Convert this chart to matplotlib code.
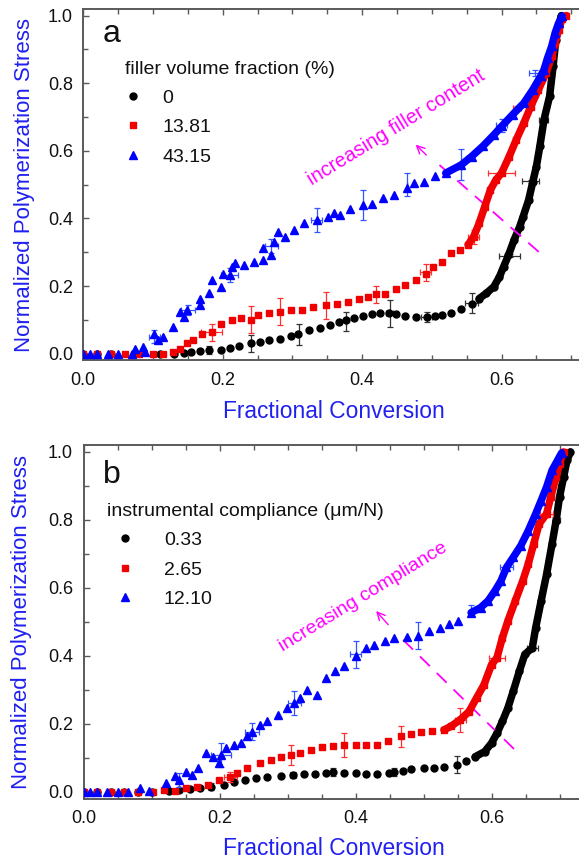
import matplotlib
matplotlib.use("Agg")
import matplotlib.pyplot as plt
from matplotlib.ticker import MultipleLocator

plt.rcParams['font.family'] = ['Liberation Sans', 'DejaVu Sans']
plt.rcParams['lines.scale_dashes'] = False

# ---------------- Panel a: filler volume fraction ----------------
a_labels = ["0", "13.81", "43.15"]
a_title = "filler volume fraction (%)"

a0_x = [0.0, 0.02, 0.04, 0.073, 0.11, 0.13, 0.144, 0.155, 0.168, 0.181, 0.197, 0.21, 0.224, 0.24, 0.253, 0.266,
        0.282, 0.298, 0.308, 0.324, 0.34, 0.354, 0.367, 0.377, 0.388, 0.401, 0.414, 0.425, 0.438, 0.449, 0.462,
        0.478, 0.493, 0.505, 0.515, 0.528, 0.542, 0.557, 0.568, 0.578, 0.589, 0.597, 0.603, 0.61, 0.618, 0.626,
        0.631, 0.639, 0.645, 0.65, 0.655, 0.661, 0.669, 0.674, 0.678, 0.682, 0.686]
a0_y = [0.0, 0.0, 0.0, 0.0, 0.0, 0.0, 0.002, 0.005, 0.008, 0.01, 0.012, 0.018, 0.022, 0.03, 0.035, 0.04,
        0.044, 0.051, 0.059, 0.069, 0.076, 0.084, 0.094, 0.099, 0.104, 0.111, 0.116, 0.119, 0.119, 0.117, 0.111,
        0.109, 0.109, 0.111, 0.114, 0.121, 0.131, 0.146, 0.163, 0.178, 0.198, 0.227, 0.257, 0.291, 0.336, 0.375,
        0.405, 0.455, 0.509, 0.553, 0.613, 0.692, 0.761, 0.85, 0.929, 0.97, 1.0]

a1_x = [0.0, 0.02, 0.04, 0.06, 0.08, 0.1, 0.115, 0.128, 0.139, 0.149, 0.157, 0.171, 0.184, 0.197, 0.213, 0.226,
        0.24, 0.25, 0.266, 0.282, 0.298, 0.314, 0.33, 0.348, 0.364, 0.38, 0.396, 0.409, 0.42, 0.433, 0.449, 0.462,
        0.478, 0.491, 0.502, 0.515, 0.528, 0.541, 0.552, 0.56, 0.568, 0.576, 0.584, 0.592, 0.6, 0.611, 0.621,
        0.632, 0.642, 0.653, 0.664, 0.672, 0.677, 0.682, 0.687, 0.693]
a1_y = [0.0, 0.0, 0.0, 0.0, 0.0, 0.0, 0.0, 0.005, 0.015, 0.03, 0.04, 0.059, 0.064, 0.089, 0.099, 0.104,
        0.099, 0.114, 0.119, 0.124, 0.129, 0.13, 0.138, 0.143, 0.148, 0.153, 0.163, 0.168, 0.175, 0.177, 0.192, 0.202,
        0.219, 0.237, 0.257, 0.272, 0.297, 0.307, 0.322, 0.346, 0.386, 0.435, 0.484, 0.514, 0.534, 0.583, 0.632,
        0.682, 0.731, 0.781, 0.83, 0.879, 0.919, 0.958, 0.99, 1.0]

a2_x = [0.0, 0.01, 0.02, 0.035, 0.05, 0.07, 0.074, 0.086, 0.088, 0.102, 0.107, 0.115, 0.128, 0.139, 0.144, 0.149,
        0.168, 0.168, 0.181, 0.184, 0.197, 0.2, 0.21, 0.213, 0.218, 0.231, 0.245, 0.258, 0.258, 0.269, 0.274, 0.28,
        0.29, 0.303, 0.316, 0.335, 0.351, 0.359, 0.369, 0.383, 0.401, 0.414, 0.43, 0.446, 0.464, 0.475, 0.489,
        0.504, 0.52, 0.542, 0.557, 0.573, 0.589, 0.6, 0.616, 0.632, 0.645, 0.656, 0.661, 0.666, 0.672, 0.677,
        0.682, 0.687]
a2_y = [0.0, 0.0, 0.0, 0.0, 0.0, 0.0, 0.015, 0.02, 0.005, 0.059, 0.04, 0.049, 0.079, 0.124, 0.109, 0.128,
        0.163, 0.143, 0.178, 0.217, 0.197, 0.237, 0.232, 0.257, 0.267, 0.262, 0.272, 0.277, 0.312, 0.292, 0.331, 0.36,
        0.346, 0.366, 0.385, 0.395, 0.405, 0.415, 0.41, 0.429, 0.439, 0.444, 0.459, 0.469, 0.489, 0.506, 0.509,
        0.524, 0.534, 0.558, 0.583, 0.613, 0.647, 0.672, 0.707, 0.741, 0.781, 0.82, 0.84, 0.874, 0.909, 0.949,
        0.978, 0.998]

# error bars (x, y, xerr, yerr)
a0_ex = [0.18, 0.24, 0.31, 0.377, 0.44, 0.493, 0.557, 0.612, 0.642, 0.66]
a0_ey = [0.01, 0.03, 0.057, 0.095, 0.12, 0.108, 0.15, 0.29, 0.51, 0.69]
a0_exe = [0.0, 0.0, 0.0, 0.0, 0.005, 0.008, 0.01, 0.015, 0.012, 0.006]
a0_eye = [0.012, 0.025, 0.03, 0.028, 0.04, 0.015, 0.03, 0.005, 0.005, 0.005]

a1_ex = [0.184, 0.24, 0.282, 0.348, 0.42, 0.491, 0.56, 0.6, 0.622]
a1_ey = [0.063, 0.1, 0.125, 0.143, 0.175, 0.24, 0.345, 0.534, 0.726]
a1_exe = [0.015, 0.0, 0.0, 0.0, 0.0, 0.008, 0.008, 0.02, 0.006]
a1_eye = [0.025, 0.04, 0.04, 0.04, 0.025, 0.025, 0.02, 0.005, 0.006]

a2_ex = [0.102, 0.15, 0.21, 0.27, 0.335, 0.401, 0.464, 0.542, 0.6, 0.648]
a2_ey = [0.05, 0.13, 0.232, 0.318, 0.395, 0.44, 0.5, 0.56, 0.675, 0.83]
a2_exe = [0.008, 0.01, 0.012, 0.01, 0.008, 0.0, 0.0, 0.0, 0.008, 0.008]
a2_eye = [0.02, 0.015, 0.02, 0.02, 0.035, 0.045, 0.035, 0.045, 0.02, 0.01]

# ---------------- Panel b: instrumental compliance ----------------
b_labels = ["0.33", "2.65", "12.10"]
b_title = "instrumental compliance (\u03bcm/N)"

b0_x = [0.0, 0.02, 0.04, 0.06, 0.08, 0.1, 0.126, 0.14, 0.156, 0.172, 0.188, 0.207, 0.221, 0.237, 0.253, 0.27,
        0.291, 0.308, 0.324, 0.34, 0.356, 0.367, 0.383, 0.4, 0.416, 0.432, 0.449, 0.456, 0.47, 0.481, 0.5, 0.516,
        0.53, 0.549, 0.562, 0.576, 0.59, 0.6, 0.608, 0.616, 0.624, 0.632, 0.641, 0.649, 0.66, 0.665, 0.673, 0.681,
        0.689, 0.695, 0.7, 0.706, 0.711, 0.716]
b0_y = [0.0, 0.0, 0.0, 0.0, 0.0, 0.0, 0.002, 0.005, 0.008, 0.012, 0.015, 0.02, 0.028, 0.034, 0.039, 0.044,
        0.047, 0.049, 0.051, 0.052, 0.054, 0.057, 0.056, 0.054, 0.052, 0.051, 0.054, 0.057, 0.061, 0.067, 0.069, 0.071,
        0.074, 0.079, 0.089, 0.103, 0.118, 0.143, 0.172, 0.207, 0.246, 0.296, 0.355, 0.404, 0.424, 0.483, 0.562, 0.64,
        0.729, 0.798, 0.867, 0.926, 0.975, 1.0]

b1_x = [0.0, 0.02, 0.04, 0.06, 0.08, 0.102, 0.118, 0.134, 0.15, 0.167, 0.183, 0.199, 0.216, 0.226, 0.24, 0.259,
        0.275, 0.291, 0.305, 0.318, 0.335, 0.351, 0.367, 0.383, 0.4, 0.416, 0.432, 0.448, 0.467, 0.481, 0.497,
        0.513, 0.53, 0.54, 0.554, 0.567, 0.578, 0.589, 0.6, 0.608, 0.616, 0.624, 0.635, 0.646, 0.654, 0.662, 0.67,
        0.681, 0.687, 0.695, 0.7, 0.706]
b1_y = [0.0, 0.0, 0.0, 0.0, 0.0, 0.0, 0.005, 0.002, 0.01, 0.015, 0.02, 0.034, 0.044, 0.054, 0.069, 0.084,
        0.094, 0.103, 0.108, 0.113, 0.123, 0.133, 0.136, 0.138, 0.138, 0.138, 0.138, 0.148, 0.163, 0.169, 0.177,
        0.179, 0.182, 0.192, 0.212, 0.236, 0.276, 0.315, 0.374, 0.394, 0.453, 0.502, 0.562, 0.621, 0.67, 0.729, 0.788,
        0.818, 0.867, 0.926, 0.966, 1.0]

b2_x = [0.0, 0.01, 0.02, 0.035, 0.05, 0.065, 0.083, 0.096, 0.121, 0.134, 0.14, 0.151, 0.159, 0.169, 0.18, 0.191,
        0.199, 0.202, 0.21, 0.221, 0.232, 0.24, 0.248, 0.259, 0.27, 0.286, 0.299, 0.31, 0.318, 0.329, 0.343, 0.356,
        0.37, 0.383, 0.4, 0.416, 0.427, 0.443, 0.457, 0.475, 0.492, 0.508, 0.524, 0.538, 0.551, 0.57, 0.584, 0.595,
        0.605, 0.614, 0.622, 0.632, 0.643, 0.654, 0.665, 0.673, 0.681, 0.689, 0.697, 0.703]
b2_y = [0.0, 0.0, 0.0, 0.0, 0.0, 0.0, 0.012, 0.002, 0.025, 0.047, 0.034, 0.059, 0.049, 0.069, 0.113, 0.103,
        0.084, 0.108, 0.128, 0.138, 0.143, 0.163, 0.177, 0.197, 0.207, 0.227, 0.246, 0.261, 0.276, 0.3, 0.286, 0.335,
        0.355, 0.369, 0.399, 0.424, 0.433, 0.443, 0.453, 0.455, 0.458, 0.473, 0.483, 0.493, 0.502, 0.527, 0.542, 0.562,
        0.591, 0.621, 0.66, 0.69, 0.724, 0.768, 0.818, 0.857, 0.897, 0.946, 0.975, 0.997]

b0_ex = [0.188, 0.308, 0.367, 0.456, 0.549, 0.66, 0.695]
b0_ey = [0.015, 0.049, 0.057, 0.057, 0.079, 0.424, 0.8]
b0_exe = [0.0, 0.005, 0.0, 0.0, 0.0, 0.008, 0.005]
b0_eye = [0.01, 0.01, 0.012, 0.012, 0.025, 0.005, 0.005]

b1_ex = [0.216, 0.305, 0.383, 0.467, 0.554, 0.608, 0.681]
b1_ey = [0.044, 0.108, 0.138, 0.163, 0.212, 0.394, 0.818]
b1_exe = [0.01, 0.0, 0.0, 0.0, 0.008, 0.012, 0.01]
b1_eye = [0.015, 0.03, 0.035, 0.03, 0.035, 0.01, 0.01]

b2_ex = [0.14, 0.202, 0.248, 0.31, 0.4, 0.492, 0.57, 0.622]
b2_ey = [0.034, 0.108, 0.177, 0.261, 0.405, 0.46, 0.535, 0.66]
b2_exe = [0.0, 0.015, 0.01, 0.01, 0.008, 0.0, 0.0, 0.01]
b2_eye = [0.02, 0.035, 0.025, 0.035, 0.04, 0.04, 0.015, 0.005]

# ---------------- styles ----------------
colors = ['#000000', '#f00000', '#0000ff']
ecolors = ['#333333', '#ff3030', '#3355ff']
markers = ['o', 's', '^']
msizes = [5.0, 4.6, 5.4]
axis_blue = '#2020f0'
magenta = '#ff00ff'
spine_c = '#5a5a5a'

W, H = 579.0, 863.0
fig = plt.figure(figsize=(W / 100, H / 100), dpi=100)

XMAX = 0.75
ax_a = fig.add_axes([83.3 / W, 1 - 360.4 / H, XMAX * 697 / W, 351.6 / H])
ax_b = fig.add_axes([83.5 / W, 1 - 798.5 / H, XMAX * 680 / W, 353.3 / H])


def draw(ax, series, errs, dense_from, labels, title, leg_anchor, hl, htp, letter, letter_pos,
         xlabel_pos, ylabel_pos):
    handles = []
    for i, (xs, ys) in enumerate(series):
        ex, ey, exe, eye = errs[i]
        ax.errorbar(ex, ey, xerr=exe, yerr=eye, fmt='none', ecolor=ecolors[i], elinewidth=0.9,
                    capsize=2.0, capthick=0.9, zorder=2 + i)
        dx = [x for x in xs if x >= dense_from[i]]
        dy = [y for x, y in zip(xs, ys) if x >= dense_from[i]]
        ax.plot(dx, dy, '-', color=colors[i], lw=5.4, solid_capstyle='round', zorder=2 + i)
        h, = ax.plot(xs, ys, ls='none', marker=markers[i], ms=msizes[i], color=colors[i],
                     mec=colors[i], zorder=2.5 + i, label=labels[i])
        handles.append(h)
    ax.set_xlim(0, XMAX)
    ax.set_ylim(-0.02, 1.02)
    ax.xaxis.set_major_locator(MultipleLocator(0.2))
    ax.xaxis.set_minor_locator(MultipleLocator(0.05))
    ax.yaxis.set_major_locator(MultipleLocator(0.2))
    ax.yaxis.set_minor_locator(MultipleLocator(0.1))
    ax.set_xticks([0.0, 0.2, 0.4, 0.6])
    ax.set_xticklabels(['0.0', '0.2', '0.4', '0.6'])
    ax.set_yticks([0.0, 0.2, 0.4, 0.6, 0.8, 1.0])
    ax.set_yticklabels(['0.0', '0.2', '0.4', '0.6', '0.8', '1.0'])
    ax.tick_params(which='both', direction='in', top=True, right=True, color=spine_c, width=1.0,
                   labelsize=13, labelcolor='#111111')
    ax.tick_params(which='major', length=4.5)
    ax.tick_params(which='minor', length=3.5)
    ax.tick_params(axis='x', which='major', pad=8)
    ax.tick_params(axis='y', which='major', pad=7.5)
    for s in ax.spines.values():
        s.set_color(spine_c)
        s.set_linewidth(1.4)
    ax.set_xlabel('Fractional Conversion', fontsize=16.4, color=axis_blue)
    ax.xaxis.label.set(va='center', ha='center')
    ax.xaxis.set_label_coords(*xlabel_pos)
    ax.set_ylabel('Normalized Polymerization Stress', fontsize=16, color=axis_blue)
    ax.yaxis.label.set(va='center', ha='center', rotation_mode='default')
    ax.yaxis.set_label_coords(*ylabel_pos)
    ax.text(letter_pos[0], letter_pos[1], letter, transform=ax.transAxes, fontsize=23,
            ha='left', va='baseline', color='#111111')
    leg = ax.legend(handles=handles, title=title, loc='upper left', bbox_to_anchor=leg_anchor,
                    frameon=False, fontsize=14, title_fontsize=14, alignment='left',
                    handlelength=hl, handletextpad=htp, borderpad=0, borderaxespad=0,
                    labelspacing=0.6, numpoints=1)
    leg.get_title().set_color('#111111')
    for t in leg.get_texts():
        t.set_color('#111111')


draw(ax_a, [(a0_x, a0_y), (a1_x, a1_y), (a2_x, a2_y)],
     [(a0_ex, a0_ey, a0_exe, a0_eye), (a1_ex, a1_ey, a1_exe, a1_eye), (a2_ex, a2_ey, a2_exe, a2_eye)],
     [0.565, 0.55, 0.52], a_labels, a_title, (0.0807, 0.8524), 0.77, 1.13, 'a', (0.0377, 0.9056),
     ((334 - 83.3) / 522.75, (360.4 - 411.7) / 351.6), ((25 - 83.3) / 522.75, 0.5))

draw(ax_b, [(b0_x, b0_y), (b1_x, b1_y), (b2_x, b2_y)],
     [(b0_ex, b0_ey, b0_exe, b0_eye), (b1_ex, b1_ey, b1_exe, b1_eye), (b2_ex, b2_ey, b2_exe, b2_eye)],
     [0.57, 0.53, 0.57], b_labels, b_title, (0.0461, 0.8364), 1.9, 1.03, 'b', (0.0382, 0.893),
     ((334 - 83.5) / 510.0, (798.5 - 848.3) / 353.3), ((22 - 83.5) / 510.0, 0.5))

# annotations
ax_a.text(0.4486, 0.6675, 'increasing filler content', color=magenta, fontsize=14.3, rotation=31.5,
          rotation_mode='anchor', ha='center', va='center')
ax_a.annotate('', xy=(0.474, 0.624), xytext=(0.495, 0.5817),
              arrowprops=dict(arrowstyle='->', color=magenta, lw=1.0, mutation_scale=14))
ax_a.plot([0.511, 0.659], [0.558, 0.291], color=magenta, lw=1.3, dashes=(10, 7))

ax_b.text(0.4115, 0.574, 'increasing compliance', color=magenta, fontsize=14, rotation=31.5,
          rotation_mode='anchor', ha='center', va='center')
ax_b.annotate('', xy=(0.4276, 0.538), xytext=(0.4507, 0.4857),
              arrowprops=dict(arrowstyle='->', color=magenta, lw=1.0, mutation_scale=14))
ax_b.plot([0.470, 0.637], [0.447, 0.118], color=magenta, lw=1.3, dashes=(10, 7))

fig.savefig('out.png', dpi=100)
